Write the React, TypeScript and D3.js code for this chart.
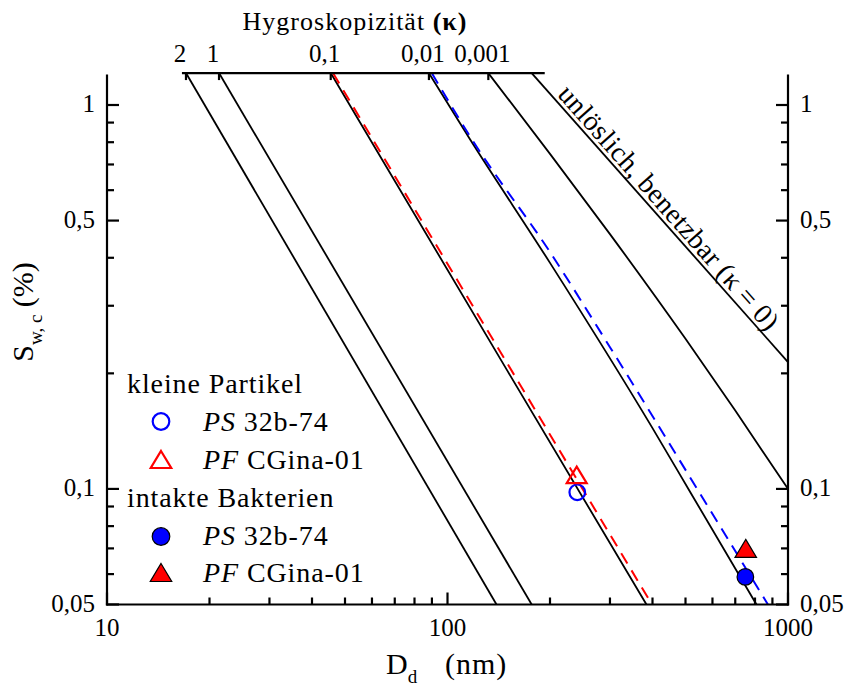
import React from 'react';
import * as d3 from 'd3';

type Pt = [number, number];

const W = 846;
const H = 689;
const FONT = "'Liberation Serif', 'Times New Roman', serif";

// Top axis: hygroscopicity labels (one per kappa curve, same order as kappaCurves)
const kappaLabels = ['2', '1', '0,1', '0,01', '0,001'];

// Critical supersaturation curves: [dry diameter (nm), S_w,c (%)]
const curveK2: Pt[] = [[17.06, 1.211], [139.3, 0.05]];
const curveK1: Pt[] = [[21.33, 1.211], [176.7, 0.05]];
const curveK01: Pt[] = [[45.4, 1.211], [150, 0.203], [384, 0.05]];
const curveK001: Pt[] = [[88.2, 1.211], [115.8, 0.82], [200, 0.388], [400, 0.144], [515, 0.0985], [808, 0.05]];
const curveK0001: Pt[] = [[131.8, 1.211], [200, 0.746], [300, 0.461], [500, 0.246], [700, 0.16], [1000, 0.1]];
const curveK0: Pt[] = [[176.7, 1.211], [1000, 0.214]];
const kappaCurves: Pt[][] = [curveK2, curveK1, curveK01, curveK001, curveK0001];

// Dashed fitted curves
const fitPF: Pt[] = [[46.1, 1.211], [398.6, 0.05]];
const fitPS: Pt[] = [[89.9, 1.211], [118.2, 0.811], [200, 0.414], [300, 0.234], [551, 0.0974], [873, 0.05]];

// Measured points
const smallPS: Pt[] = [[240.5, 0.098]];
const smallPF: Pt[] = [[239.6, 0.1088]];
const bacteriaPS: Pt[] = [[749.5, 0.059]];
const bacteriaPF: Pt[] = [[751.5, 0.07]];

// Axes
const xMajor = [10, 100, 1000];
const xMajorLabels = ['10', '100', '1000'];
const xMinor = [20, 30, 40, 50, 60, 70, 80, 90, 200, 300, 400, 500, 600, 700, 800, 900];
const yMajor = [0.05, 0.1, 0.5, 1];
const yMajorLabels = ['0,05', '0,1', '0,5', '1'];
const yMinor = [0.06, 0.07, 0.08, 0.09, 0.2, 0.3, 0.4, 0.6, 0.7, 0.8, 0.9];
const yAxisTop = 1.2;
const kappaAxisS = 1.211;
const kappaAxisRange: Pt = [16.6, 193];

function tri(cx: number, cy: number, w: number, h: number) {
  return `M${cx},${cy - h / 2}L${cx + w / 2},${cy + h / 2}L${cx - w / 2},${cy + h / 2}Z`;
}

export default function App() {
  const x = d3.scaleLog().domain([10, 1000]).range([107, 788]);
  const y = d3.scaleLog().domain([0.05, 1]).range([604.5, 105]);
  const line = d3
    .line<Pt>()
    .x((d) => x(d[0]))
    .y((d) => y(d[1]))
    .curve(d3.curveMonotoneX);

  const left = x(10);
  const right = x(1000);
  const bottom = y(0.05);
  const top = y(yAxisTop);
  const kTop = y(kappaAxisS);

  // kappa = 0 label geometry
  const p0 = [x(curveK0[0][0]), y(curveK0[0][1])];
  const p1 = [x(curveK0[1][0]), y(curveK0[1][1])];
  const ang = Math.atan2(p1[1] - p0[1], p1[0] - p0[0]);
  const ux = Math.cos(ang), uy = Math.sin(ang);
  const nx = Math.sin(ang), ny = -Math.cos(ang);
  const lx = p0[0] + ux * 33 + nx * 4;
  const ly = p0[1] + uy * 33 + ny * 4;

  const axisW = 2.2;
  const major = 12;
  const minor = 7;

  return (
    <svg
      width={W}
      height={H}
      viewBox={`0 0 ${W} ${H}`}
      style={{ position: 'absolute', left: 0, top: 0, background: '#fff' }}
      fontFamily={FONT}
    >
      <rect x={0} y={0} width={W} height={H} fill="#fff" />

      {/* curves */}
      <g fill="none" stroke="#000" strokeWidth={1.8}>
        {kappaCurves.map((c, i) => (
          <path key={i} d={line(c) || ''} />
        ))}
        <path d={line(curveK0) || ''} />
      </g>
      <path d={line(fitPF) || ''} fill="none" stroke="#ff0000" strokeWidth={2} strokeDasharray="12 8" />
      <path d={line(fitPS) || ''} fill="none" stroke="#0000ff" strokeWidth={2} strokeDasharray="12 8" />

      {/* axes */}
      <g stroke="#000" strokeWidth={axisW} fill="none">
        <line x1={left} y1={top} x2={left} y2={bottom + axisW / 2} />
        <line x1={right} y1={top} x2={right} y2={bottom + axisW / 2} />
        <line x1={left - axisW / 2} y1={bottom} x2={right + axisW / 2} y2={bottom} />
        {yMajor.map((v) => (
          <g key={'ym' + v}>
            <line x1={left} x2={left + major} y1={y(v)} y2={y(v)} />
            <line x1={right} x2={right - major} y1={y(v)} y2={y(v)} />
          </g>
        ))}
        {yMinor.map((v) => (
          <g key={'yn' + v}>
            <line x1={left} x2={left + minor} y1={y(v)} y2={y(v)} />
            <line x1={right} x2={right - minor} y1={y(v)} y2={y(v)} />
          </g>
        ))}
        {xMajor.map((v) => (
          <line key={'xm' + v} x1={x(v)} x2={x(v)} y1={bottom} y2={bottom - major} />
        ))}
        {xMinor.map((v) => (
          <line key={'xn' + v} x1={x(v)} x2={x(v)} y1={bottom} y2={bottom - minor} />
        ))}
        {/* kappa axis */}
        <line x1={x(kappaAxisRange[0])} x2={x(kappaAxisRange[1])} y1={kTop} y2={kTop} />
        {kappaCurves.map((c, i) => (
          <line key={'kt' + i} x1={x(c[0][0])} x2={x(c[0][0])} y1={kTop} y2={kTop + 7} />
        ))}
      </g>

      {/* tick labels */}
      <g fontSize={25} fill="#000">
        {yMajor.map((v, i) => (
          <text key={'yl' + v} x={95} y={y(v) + 7} textAnchor="end">
            {yMajorLabels[i]}
          </text>
        ))}
        {yMajor.map((v, i) => (
          <text key={'yr' + v} x={800} y={y(v) + 7} textAnchor="start">
            {yMajorLabels[i]}
          </text>
        ))}
        {xMajor.map((v, i) => (
          <text key={'xl' + v} x={x(v)} y={636} textAnchor="middle">
            {xMajorLabels[i]}
          </text>
        ))}
        {kappaCurves.map((c, i) => (
          <text key={'kl' + i} x={x(c[0][0]) - 6} y={62} textAnchor="middle">
            {kappaLabels[i]}
          </text>
        ))}
      </g>

      {/* titles */}
      <text x={355} y={30} fontSize={26} textAnchor="middle" letterSpacing={1}>
        Hygroskopizität <tspan fontWeight="bold">(κ)</tspan>
      </text>
      <text x={386} y={674} fontSize={30}>
        D<tspan fontSize={19} dy={9}>d</tspan>
      </text>
      <text x={445} y={674} fontSize={30} letterSpacing={1}>
        (nm)
      </text>
      <text transform="translate(33,312) rotate(-90)" fontSize={30} textAnchor="middle">
        S<tspan fontSize={19} dy={8.5}>w, c</tspan>
        <tspan dy={-8.5}>{'\u00a0(%)'}</tspan>
      </text>

      {/* kappa = 0 label */}
      <text
        transform={`translate(${lx},${ly}) rotate(${(ang * 180) / Math.PI})`}
        fontSize={28}
        letterSpacing={0.3}
      >
        unlöslich, benetzbar (κ = 0)
      </text>

      {/* data points */}
      {smallPS.map((d, i) => (
        <circle key={'sps' + i} cx={x(d[0])} cy={y(d[1])} r={7.8} fill="none" stroke="#0000ff" strokeWidth={2.2} />
      ))}
      {smallPF.map((d, i) => (
        <path key={'spf' + i} d={tri(x(d[0]), y(d[1]), 20, 16.5)} fill="none" stroke="#ff0000" strokeWidth={2.2} />
      ))}
      {bacteriaPS.map((d, i) => (
        <circle key={'bps' + i} cx={x(d[0])} cy={y(d[1])} r={8.3} fill="#0000ff" stroke="#000" strokeWidth={1.2} />
      ))}
      {bacteriaPF.map((d, i) => (
        <path key={'bpf' + i} d={tri(x(d[0]), y(d[1]), 21.5, 18)} fill="#ff0000" stroke="#000" strokeWidth={1.2} />
      ))}

      {/* legend */}
      <g fontSize={28} letterSpacing={0.9}>
        <text x={127} y={393}>kleine Partikel</text>
        <circle cx={161} cy={421.5} r={8.3} fill="none" stroke="#0000ff" strokeWidth={2.2} />
        <text x={203} y={431}>
          <tspan fontStyle="italic">PS</tspan> 32b-74
        </text>
        <path d={tri(161, 459.5, 20.5, 17)} fill="none" stroke="#ff0000" strokeWidth={2.2} />
        <text x={203} y={469}>
          <tspan fontStyle="italic">PF</tspan> CGina-01
        </text>
        <text x={127} y={507}>intakte Bakterien</text>
        <circle cx={161} cy={536.5} r={8.8} fill="#0000ff" stroke="#000" strokeWidth={1.2} />
        <text x={203} y={545}>
          <tspan fontStyle="italic">PS</tspan> 32b-74
        </text>
        <path d={tri(161, 572.5, 21.5, 18)} fill="#ff0000" stroke="#000" strokeWidth={1.2} />
        <text x={203} y={582}>
          <tspan fontStyle="italic">PF</tspan> CGina-01
        </text>
      </g>
    </svg>
  );
}
